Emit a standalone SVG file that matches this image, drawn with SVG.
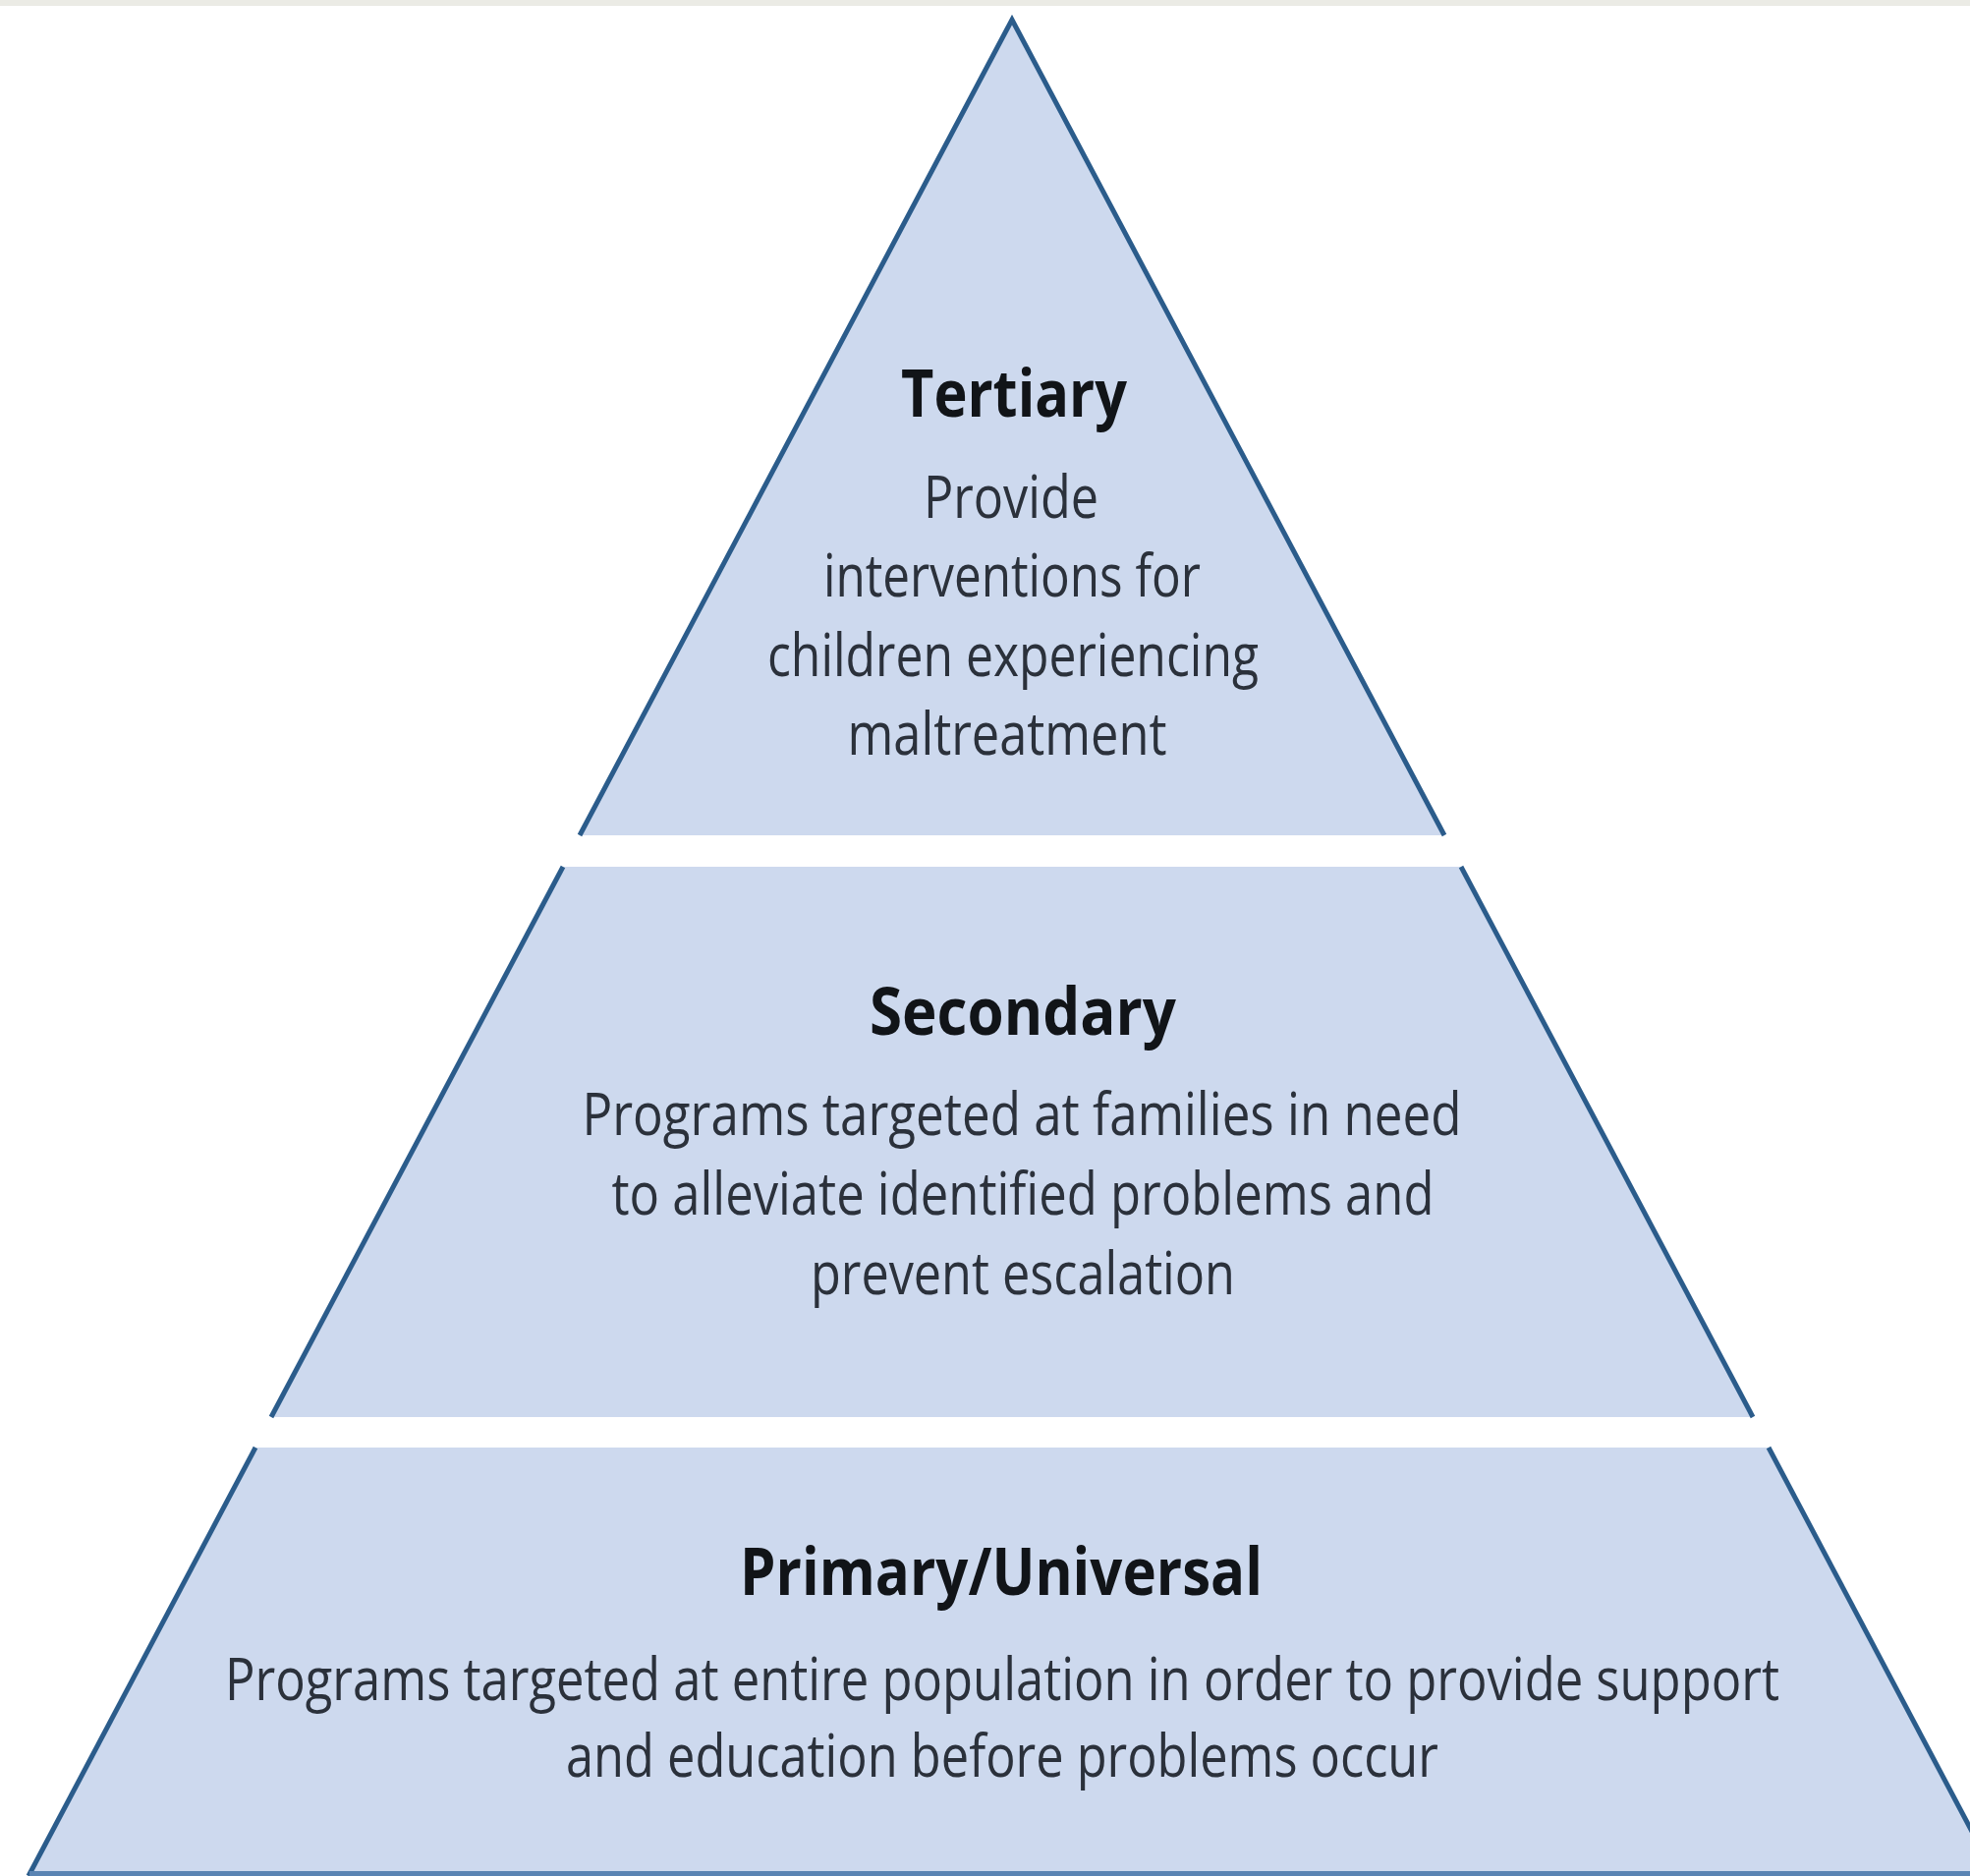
<svg xmlns="http://www.w3.org/2000/svg" width="2005" height="1909" viewBox="0 0 2005 1909">
  <style>
    .tier { fill: #cdd9ee; stroke: none; }
    .edge { fill: none; stroke: #2b5c8b; stroke-width: 5; stroke-linejoin: miter; stroke-linecap: butt; }
    .title { font-family: "Open Sans", "Liberation Sans", sans-serif; font-weight: 700; font-size: 66px; fill: #111418; text-anchor: middle; }
    .body { font-family: "Open Sans", "Liberation Sans", sans-serif; font-weight: 400; font-size: 60px; fill: #2b313b; text-anchor: middle; }
  </style>

  <rect x="0" y="0" width="2005" height="1909" fill="#ffffff"/>
  <!-- thin grey strip along the top edge -->
  <rect x="0" y="0" width="2005" height="6" fill="#ebebe5"/>

  <!-- top tier -->
  <g id="tertiary">
    <polygon class="tier" points="1030,20 1470,850 590,850"/>
    <polyline class="edge" points="590,850 1030,20 1470,850"/>
    <text class="title" x="1032" y="424" textLength="230" lengthAdjust="spacingAndGlyphs">Tertiary</text>
    <text class="body" x="1029" y="527" textLength="178" lengthAdjust="spacingAndGlyphs">Provide</text>
    <text class="body" x="1030" y="607" textLength="384" lengthAdjust="spacingAndGlyphs">interventions for</text>
    <text class="body" x="1031" y="688" textLength="500" lengthAdjust="spacingAndGlyphs">children experiencing</text>
    <text class="body" x="1025" y="768" textLength="325" lengthAdjust="spacingAndGlyphs">maltreatment</text>
  </g>

  <!-- middle tier -->
  <g id="secondary">
    <polygon class="tier" points="573,882 1487,882 1784,1442 276,1442"/>
    <line class="edge" x1="573" y1="882" x2="276" y2="1442"/>
    <line class="edge" x1="1487" y1="882" x2="1784" y2="1442"/>
    <text class="title" x="1041" y="1053" textLength="312" lengthAdjust="spacingAndGlyphs">Secondary</text>
    <text class="body" x="1040" y="1155" textLength="895" lengthAdjust="spacingAndGlyphs">Programs targeted at families in need</text>
    <text class="body" x="1041" y="1236" textLength="837" lengthAdjust="spacingAndGlyphs">to alleviate identified problems and</text>
    <text class="body" x="1041" y="1317" textLength="432" lengthAdjust="spacingAndGlyphs">prevent escalation</text>
  </g>

  <!-- base tier -->
  <g id="primary">
    <polygon class="tier" points="260,1473 1800,1473 2031,1909 29,1909"/>
    <line class="edge" x1="260" y1="1473" x2="29" y2="1909"/>
    <line class="edge" x1="1800" y1="1473" x2="2031" y2="1909"/>
    <rect x="30" y="1904" width="1975" height="5" fill="#5a84b3"/>
    <text class="title" x="1019" y="1623" textLength="532" lengthAdjust="spacingAndGlyphs">Primary/Universal</text>
    <text class="body" x="1020" y="1730" textLength="1582" lengthAdjust="spacingAndGlyphs">Programs targeted at entire population in order to provide support</text>
    <text class="body" x="1020" y="1808" textLength="888" lengthAdjust="spacingAndGlyphs">and education before problems occur</text>
  </g>

  <g id="connectors"/>
</svg>
